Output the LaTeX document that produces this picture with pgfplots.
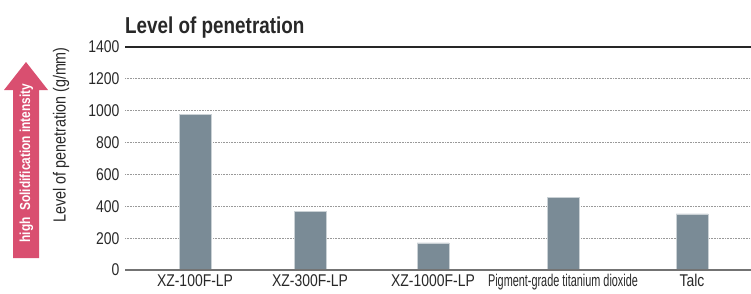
\documentclass[border=0pt]{standalone}
\usepackage{fontspec}
\setmainfont{Liberation Sans}[FakeStretch=0.82]
\usepackage{pgfplots}
\pgfplotsset{compat=1.18}
\definecolor{barcol}{RGB}{122,139,150}
\definecolor{pinkc}{RGB}{217,79,112}
\definecolor{txt}{RGB}{40,40,40}
\begin{document}
\begin{tikzpicture}[x=1pt,y=1pt]
\useasboundingbox (0,0) rectangle (751,293);
\begin{axis}[
  at={(125pt,23pt)}, anchor=south west,
  scale only axis, width=626pt, height=223pt,
  xmin=125, xmax=751, ymin=0, ymax=1400,
  axis line style={draw=none},
  major tick length=0pt,
  ytick={0,200,...,1400},
  xtick={195,310,433,563,692},
  xticklabels={XZ-100F-LP,XZ-300F-LP,XZ-1000F-LP,{\scalebox{0.78}[1]{Pigment-grade titanium dioxide}},Talc},
  ymajorgrids,
  grid style={gray!80, line width=0.8pt, dash pattern=on 0.8pt off 0.8pt},
  tick label style={font=\fontsize{17}{19}\selectfont, text=txt},
  /pgf/number format/assume math mode=true,
  /pgf/number format/1000 sep={},
  yticklabel style={xshift=-2pt},
  xticklabel style={yshift=-1pt},
  clip=false,
]
\addplot[ybar, bar width=32, fill=barcol, draw=barcol!40!white, line width=0.5pt] coordinates {(195,975) (310,370) (433,170) (563,458) (692,352)};
\draw[gray!90!black, line width=1.2pt] (axis cs:125,0) -- (axis cs:751,0);
\draw[black!85, line width=1.2pt] (axis cs:125,1400) -- (axis cs:751,1400);
\end{axis}
\node[anchor=base west, inner sep=0pt, font=\fontsize{23}{25}\bfseries\selectfont, text=txt] at (125,260) {Level of penetration};
\node[rotate=90, font=\fontsize{17.5}{19}\selectfont, text=txt] at (61,158) {Level of penetration (g/mm)};
\fill[pinkc] (13,35) -- (39,35) -- (39,203) -- (48,203) -- (26,231) -- (4,203) -- (13,203) -- cycle;
\node[rotate=90, font=\fontsize{14.5}{16}\bfseries\selectfont, text=white] at (26.5,130) {high\ \ Solidification intensity};
\end{tikzpicture}
\end{document}
